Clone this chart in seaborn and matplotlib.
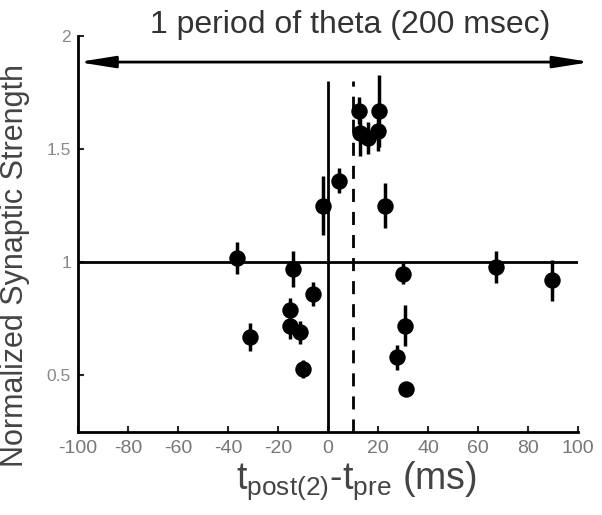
import matplotlib
matplotlib.use("Agg")
import matplotlib.pyplot as plt
import seaborn as sns
import pandas as pd

# Data
dt = [-36.3, -31.2, -15.0, -15.2, -14.1, -11.0, -9.9, -5.9, -1.9, 4.5,
      12.5, 13.0, 16.0, 20.0, 20.3, 22.8, 27.5, 30.1, 30.8, 31.1, 67.2, 89.5]
strength = [1.02, 0.67, 0.79, 0.72, 0.97, 0.69, 0.53, 0.86, 1.25, 1.36,
            1.67, 1.57, 1.55, 1.58, 1.67, 1.25, 0.58, 0.95, 0.72, 0.44, 0.98, 0.92]
sem = [0.07, 0.06, 0.05, 0.06, 0.08, 0.05, 0.04, 0.055, 0.13, 0.055,
       0.06, 0.10, 0.07, 0.09, 0.16, 0.10, 0.055, 0.045, 0.09, 0.02, 0.07, 0.09]
xticks = [-100, -80, -60, -40, -20, 0, 20, 40, 60, 80, 100]
yticks = [0.5, 1, 1.5, 2]
ytick_labels = ["0.5", "1", "1.5", "2"]
title_text = "1 period of theta (200 msec)"

sns.set_style("ticks")
plt.rcParams['font.family'] = ['Liberation Sans', 'DejaVu Sans']
plt.rcParams['mathtext.fontset'] = 'custom'
plt.rcParams['mathtext.rm'] = 'Liberation Sans'
plt.rcParams['mathtext.default'] = 'regular'

df = pd.DataFrame({"dt": dt, "strength": strength, "sem": sem})

fig = plt.figure(figsize=(6.02, 5.15), dpi=100)
ax = fig.add_axes([0.1296, 0.1612, 0.8304, 0.7688])

ax.set_xlim(-100, 100)
ax.set_ylim(0.25, 2)

# reference lines
ax.axhline(1, color="black", lw=2, zorder=1)
ax.vlines(0, 0.25, 1.8, color="black", lw=2, zorder=1)
ax.vlines(10, 0.25, 1.8, color="black", lw=2, linestyles=(0, (4.7, 3.6)), zorder=1)

ax.errorbar(df["dt"], df["strength"], yerr=df["sem"], fmt="none",
            ecolor="black", elinewidth=2.5, capsize=0, zorder=2)
sns.scatterplot(data=df, x="dt", y="strength", ax=ax, color="black",
                s=140, edgecolor="black", linewidth=0, zorder=3)

sns.despine(ax=ax)
for s in ["left", "bottom"]:
    ax.spines[s].set_linewidth(2)
    ax.spines[s].set_color("black")

ax.set_xticks(xticks)
ax.set_xticklabels([str(t) for t in xticks])
ax.set_yticks(yticks)
ax.set_yticklabels(ytick_labels)
ax.tick_params(axis="x", direction="in", length=4, width=1.5, labelsize=14,
               labelcolor="#777777", pad=6)
ax.tick_params(axis="y", direction="in", length=4, width=1.5, labelsize=12.5,
               labelcolor="#888888", pad=5)

ax.set_xlabel(r"t$_{\mathrm{post(2)}}$-t$_{\mathrm{pre}}$ (ms)", fontsize=27,
              color="#444444", labelpad=0)
ax.xaxis.set_label_coords(0.558, -0.07, transform=ax.transAxes)
ax.xaxis.label.set_va("top")
ax.set_ylabel("Normalized Synaptic Strength", fontsize=22, color="#444444")
ax.yaxis.set_label_coords(-0.096, 0.42, transform=ax.transAxes)

# theta period arrow and label
ax.annotate("", xy=(105, 1.885), xytext=(-100, 1.885),
            arrowprops=dict(arrowstyle="<|-|>,head_length=2.2,head_width=0.35",
                            color="black", lw=2, shrinkA=0, shrinkB=0),
            annotation_clip=False)
ax.text(8.8, 2.05, title_text, ha="center", va="center", fontsize=23,
        color="#333333", clip_on=False)

fig.savefig("out.png", dpi=100)
